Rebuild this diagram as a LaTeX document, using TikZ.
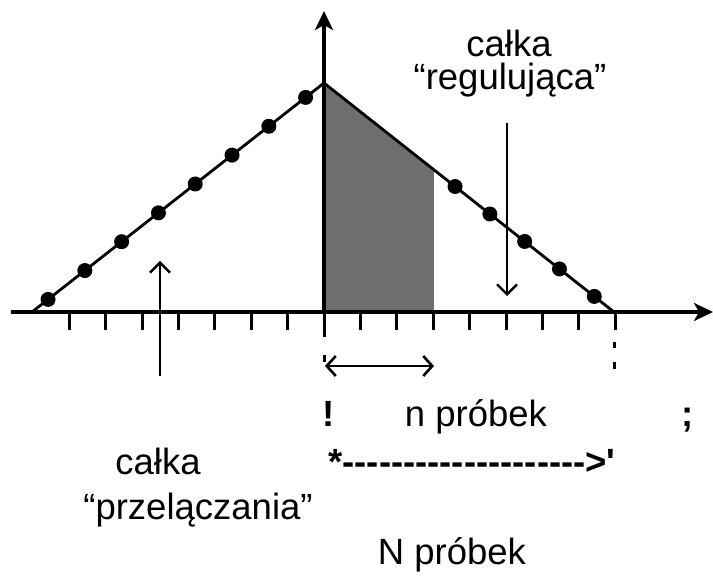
\documentclass[tikz,border=0pt]{standalone}
\usepackage{fontspec}
\setmainfont{Liberation Sans}
\newfontfamily\rawsans{Liberation Sans}[Ligatures=TeXOff]
\usetikzlibrary{arrows.meta,calc}
\definecolor{areagray}{HTML}{6E6E6E}
\tikzset{
  axisline/.style={line width=3.4pt, -{Stealth[length=19pt,width=18pt,inset=5pt]}},
  ramp/.style={line width=2.8pt},
  smp/.style={circle, fill=black, inner sep=0pt, minimum size=15pt},
  tk/.style={line width=3pt},
  cut/.style={line width=3pt},
  pointer/.style={line width=2.2pt, -{Straight Barb[length=10pt,width=20pt,line width=2.4pt]}},
  span/.style={line width=2.6pt, {Straight Barb[length=9pt,width=20pt]}-{Straight Barb[length=9pt,width=20pt]}},
  lbl/.style={font=\fontsize{36.5}{40}\selectfont, anchor=base, inner sep=0pt},
  blbl/.style={lbl, font=\fontsize{36.5}{40}\selectfont\rawsans\bfseries},
}

\begin{document}
\begin{tikzpicture}[x=1pt,y=-1pt]
  \useasboundingbox (0,0) rectangle (713,577);
  \coordinate (O) at (324,312);
  \coordinate (L) at (32,312);
  \coordinate (P) at (324,83);
  \coordinate (R) at (614,312);
  \coordinate (xs) at (11,312);
  \coordinate (xe) at (713,312);
  \coordinate (ye) at (324,11);
  \coordinate (W) at ($(P)!0.379!(R)$);
  \fill[areagray] (O) -- (P) -- (W) -- (W |- O) -- cycle;
  \draw[axisline] (xs) -- (xe);
  \draw[axisline] (O) -- (ye);
  \draw[ramp] (L) -- (P) -- (R);
  \foreach \i in {0,...,7} \node[smp] (l\i) at ($(L)!{0.055+0.126*\i}!(P)$) {};
  \foreach \i in {0,...,4} \node[smp] (r\i) at ($(P)!{0.452+0.12*\i}!(R)$) {};
  \foreach \k in {-7,...,8} \draw[tk] ($(O)+(36.4*\k,0)$) -- ++(0,18);
  \draw[cut] (O) -- ++(0,25) ++(0,18) -- ++(0,7);
  \draw[cut] (R) ++(0,30) -- ++(0,6) ++(0,14) -- ++(0,7);
  \coordinate (pa) at (160,376);
  \coordinate (pb) at (160,261);
  \coordinate (qa) at (507,123);
  \coordinate (qb) at (507,296);
  \coordinate (sa) at (325,366);
  \coordinate (sb) at (434,366);
  \draw[pointer] (pa) -- (pb);
  \draw[pointer] (qa) -- (qb);
  \draw[span] (sa) -- (sb);
  \node[lbl] (cr1) at (509,57) {całka};
  \node[lbl] (cr2) at (510,90) {“regulująca”};
  \node[lbl] (cp1) at (158,475) {całka};
  \node[lbl] (cp2) at (198,520) {“przelączania”};
  \node[blbl] (ex) at (329,427) {!};
  \node[lbl] (np) at (476,427) {n próbek};
  \node[blbl] (sc) at (688,427) {;};
  \node[blbl] (dr) at (472,475) {*\foreach \i in {1,...,20}{-\kern0pt}>'};
  \node[lbl] (Np) at (452,565) {N próbek};
\end{tikzpicture}
\end{document}
